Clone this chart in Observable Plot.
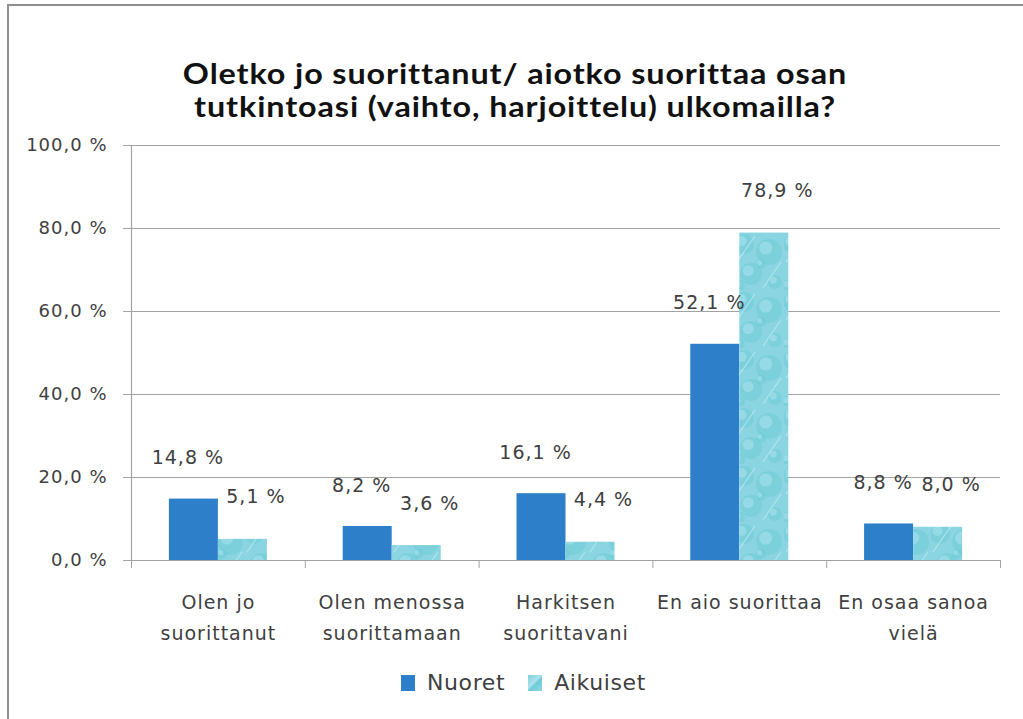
<!DOCTYPE html>
<html>
<head>
<meta charset="utf-8">
<script src="https://cdn.jsdelivr.net/npm/d3@7"></script>
<script src="https://cdn.jsdelivr.net/npm/@observablehq/plot@0.6"></script>
<style>
  html, body { margin: 0; padding: 0; background: #fff; }
  #wrap { position: relative; width: 1023px; height: 719px; overflow: hidden; }
  #frame { position: absolute; left: 7px; top: 4px; width: 1030px; height: 730px;
           border-top: 2px solid #8f8f8f; border-left: 2px solid #8f8f8f; box-sizing: border-box; }
  .title { position: absolute; left: 0; width: 1030px; text-align: center; white-space: nowrap;
           font-family: Lato, "Open Sans", sans-serif; font-weight: 700; font-size: 29px;
           letter-spacing: 0.8px; line-height: 33px; color: #111;
           transform: scaleX(1.115); transform-origin: 515px 50%; }
  #chart { position: absolute; left: 0; top: 0; }
  #legend { position: absolute; top: 670px; left: 401px; display: flex; align-items: center;
            font-family: "DejaVu Sans", sans-serif; font-size: 22px; color: #404040; letter-spacing: 0.6px; }
  .sw { width: 14px; height: 16px; display: inline-block; }
</style>
</head>
<body>
<div id="wrap">
  <div id="frame"></div>
  <div class="title" style="top:56px">Oletko jo suorittanut/ aiotko suorittaa osan</div>
  <div class="title" style="top:89px">tutkintoasi (vaihto, harjoittelu) ulkomailla?</div>
  <div id="chart"></div>
  <div id="legend"></div>
</div>
<script>
// ---- data ----
const categories = ["Olen jo\nsuorittanut", "Olen menossa\nsuorittamaan", "Harkitsen\nsuorittavani", "En aio suorittaa", "En osaa sanoa\nvielä"];
const seriesNames = ["Nuoret", "Aikuiset"];
const nuoret = [14.8, 8.2, 16.1, 52.1, 8.8];
const aikuiset = [5.1, 3.6, 4.4, 78.9, 8.0];
const yTicks = [0, 20, 40, 60, 80, 100];

const colors = { Nuoret: "#2c7fc8", Aikuiset: "url(#drops)" };
const fmt = v => v.toFixed(1).replace(".", ",") + " %";

const rows = [];
categories.forEach((c, i) => {
  rows.push({ i, series: "Nuoret", value: nuoret[i] });
  rows.push({ i, series: "Aikuiset", value: aikuiset[i] });
});

const bw = 0.282; // bar width as fraction of category band
const isN = d => d.series === "Nuoret";

// pattern defs (soft water-drop texture for Aikuiset)
function defs() {
  const g = d3.create("svg:defs");
  const p = g.append("pattern").attr("id", "drops").attr("patternUnits", "userSpaceOnUse")
    .attr("width", 49).attr("height", 58);
  p.append("rect").attr("width", 49).attr("height", 58).attr("fill", "#8ad5e1");
  const circ = [[9, 12, 10], [34, 20, 13], [16, 42, 11], [40, 50, 7], [26, 32, 5], [4, 54, 6]];
  circ.forEach(([cx, cy, r]) => {
    p.append("circle").attr("cx", cx).attr("cy", cy).attr("r", r)
      .attr("fill", "#62c5d4").attr("opacity", 0.35);
    p.append("circle").attr("cx", cx - r * 0.25).attr("cy", cy - r * 0.3).attr("r", r * 0.5)
      .attr("fill", "#b4e7ef").attr("opacity", 0.45);
  });
  p.append("path").attr("d", "M2,30 L20,4 M28,56 L46,30").attr("stroke", "#c8eff4")
    .attr("stroke-width", 1.2).attr("opacity", 0.6);
  return g.node();
}

const chart = Plot.plot({
  width: 1023,
  height: 719,
  marginLeft: 131,
  marginRight: 23,
  marginTop: 145,
  marginBottom: 159,
  style: { fontFamily: "DejaVu Sans, sans-serif", fontSize: "19px", color: "#404040", background: "transparent", overflow: "visible", letterSpacing: "1px" },
  x: { type: "linear", domain: [-0.5, categories.length - 0.5], axis: null },
  y: { domain: [0, 100], axis: null },
  marks: [
    defs,
    Plot.ruleY(yTicks, { stroke: "#a3a3a3", strokeWidth: 1.2 }),
    Plot.ruleX([-0.5], { stroke: "#a3a3a3", strokeWidth: 1.2 }),
    Plot.axisY({ ticks: yTicks, tickFormat: fmt, tickSize: 8, tickPadding: 16, stroke: "#a3a3a3", fill: "#404040", label: null, fontSize: 18 }),
    Plot.axisX({ ticks: d3.range(categories.length + 1).map(k => k - 0.5), tickSize: 8, tickFormat: () => "", stroke: "#a3a3a3", label: null }),
    Plot.axisX({ ticks: d3.range(categories.length), tickSize: 0, tickPadding: 27, tickFormat: i => categories[i], lineHeight: 1.63, fill: "#404040", label: null }),
    Plot.rectY(rows, {
      x1: d => isN(d) ? d.i - bw : d.i,
      x2: d => isN(d) ? d.i : d.i + bw,
      y: "value",
      fill: d => colors[d.series]
    }),
    Plot.text(rows.filter(isN), { x: d => d.i - bw / 2, y: "value", text: d => fmt(d.value), dx: -6, dy: -41, fill: "#404040" }),
    Plot.text(rows.filter(d => !isN(d)), { x: d => d.i + bw / 2, y: "value", text: d => fmt(d.value), dx: 13, dy: -42, fill: "#404040" })
  ]
});
document.getElementById("chart").appendChild(chart);

// legend
const leg = document.getElementById("legend");
const swFill = { Nuoret: "#2c7fc8", Aikuiset: "linear-gradient(135deg,#7fd1de 0%,#a9e3ec 45%,#6fcbd9 55%,#8ed7e2 100%)" };
seriesNames.forEach((s, k) => {
  const sw = document.createElement("span");
  sw.className = "sw";
  sw.style.background = swFill[s];
  sw.style.marginLeft = k === 0 ? "0px" : "23px";
  const t = document.createElement("span");
  t.textContent = s;
  t.style.marginLeft = "12px";
  leg.appendChild(sw);
  leg.appendChild(t);
});
</script>
</body>
</html>
